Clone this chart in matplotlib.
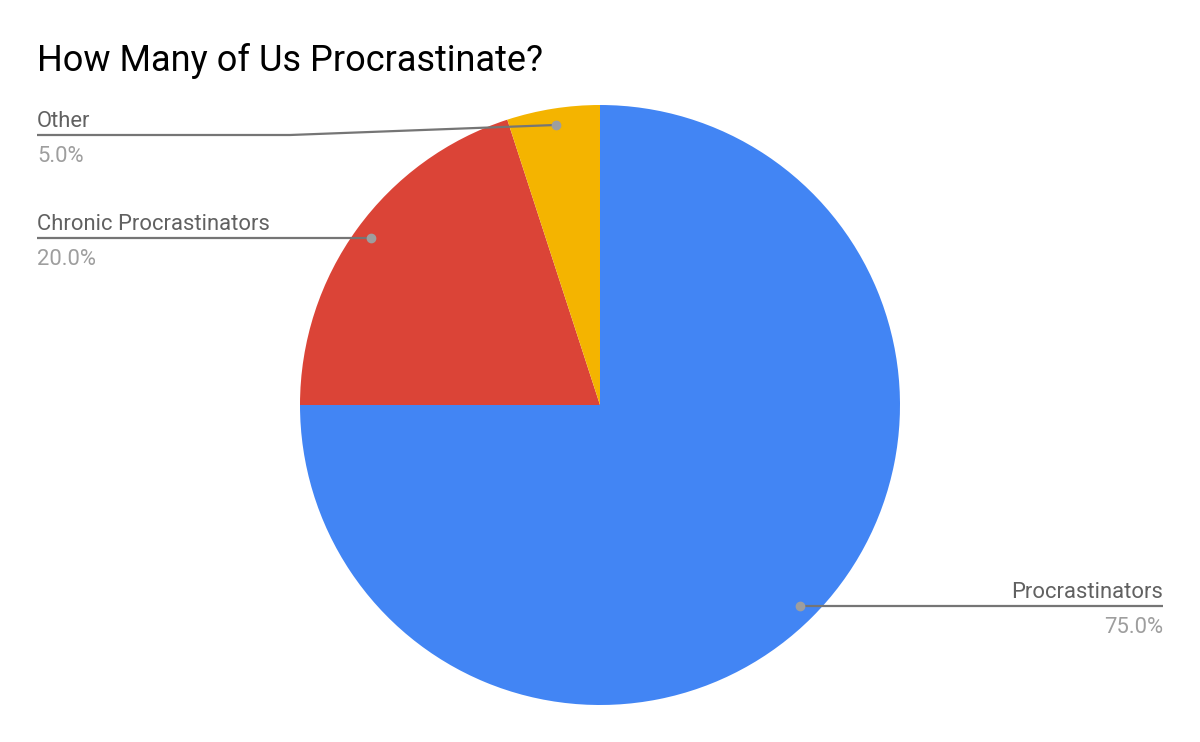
import numpy as np
import matplotlib
matplotlib.use("Agg")
import matplotlib.pyplot as plt

title = "How Many of Us Procrastinate?"
labels = ["Procrastinators", "Chronic Procrastinators", "Other"]
values = [75.0, 20.0, 5.0]
colors = ["#4285F4", "#DB4437", "#F4B400"]

plt.rcParams['font.family'] = ['Roboto', 'DejaVu Sans']

W, H = 1200, 742
fig = plt.figure(figsize=(W / 100, H / 100), dpi=100)
ax = fig.add_axes([0, 0, 1, 1])

cx, cy, R = 600, H - 405, 300
wedges, _ = ax.pie(values, colors=colors, startangle=90, counterclock=False,
                   center=(cx, cy), radius=R, frame=True,
                   wedgeprops=dict(linewidth=0))
ax.set_xlim(0, W)
ax.set_ylim(0, H)
ax.set_aspect('equal')
ax.axis('off')

fig.text(37 / W, 1 - 71 / H, title, fontsize=26, color="#000000",
         va='baseline', ha='left')

label_color = "#616161"
pct_color = "#9E9E9E"
line_color = "#757575"

# leader line layouts (pixel y of line) -- layout only
layout = {
    "Procrastinators": dict(side='right', line_y=606, x_end=1163),
    "Chronic Procrastinators": dict(side='left', line_y=238, x_end=37),
    "Other": dict(side='left', line_y=135, x_end=37, elbow=290),
}

total = sum(values)
fs = 15.8
for w, lab, v in zip(wedges, labels, values):
    ang = np.deg2rad((w.theta1 + w.theta2) / 2)
    px = cx + 0.945 * R * np.cos(ang)
    py = cy + 0.945 * R * np.sin(ang)
    L = layout[lab]
    ly = H - L['line_y']
    elbow = L.get('elbow')
    if elbow is not None:
        xs = [px, elbow, L['x_end']]
        ys = [py, ly, ly]
        dot_y = py
    else:
        xs = [px, L['x_end']]
        ys = [ly, ly]
        dot_y = ly
    ha = 'left' if L['side'] == 'left' else 'right'
    ax.plot(xs, ys, color=line_color, lw=1.6, solid_capstyle='butt', zorder=3)
    ax.plot([px], [dot_y], 'o', color=pct_color, ms=6, zorder=4)
    ax.text(L['x_end'], ly + 8, lab, fontsize=fs, color=label_color,
            ha=ha, va='baseline')
    ax.text(L['x_end'], ly - 27, f"{v / total * 100:.1f}%", fontsize=fs,
            color=pct_color, ha=ha, va='baseline')

fig.savefig("out.png", dpi=100, facecolor='white')
